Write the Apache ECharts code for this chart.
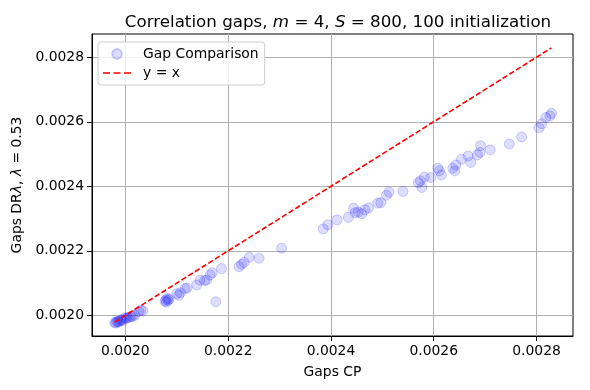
<!DOCTYPE html>
<html>
<head>
<meta charset="utf-8">
<script src="https://cdn.jsdelivr.net/npm/echarts@6/dist/echarts.min.js"></script>
<style>html,body{margin:0;padding:0;background:#fff}#c{width:590px;height:390px}</style>
</head>
<body>
<div id="c"></div>
<script>
// Gaps CP (x) and Gaps DR lambda (y), one entry per initialization
const gapsCP = [
  0.001979, 0.001981, 0.001983, 0.001985, 0.001987, 0.001989, 0.001992, 0.001995, 0.001998,
  0.002001, 0.002004, 0.002008, 0.002011, 0.002014, 0.002018, 0.002026, 0.002030, 0.002034,
  0.002077, 0.002079, 0.002080, 0.002082, 0.002083, 0.002085, 0.002100, 0.002104, 0.002107,
  0.002116, 0.002120, 0.002139, 0.002145, 0.002154, 0.002158, 0.002165, 0.002169, 0.002176,
  0.002187, 0.002221, 0.002226, 0.002231, 0.002241, 0.002260, 0.002304,
  0.002385, 0.002394, 0.002412, 0.002434, 0.002444, 0.002447, 0.002453, 0.002460, 0.002466,
  0.002473, 0.002491, 0.002497, 0.002508, 0.002513, 0.002540, 0.002570, 0.002574, 0.002577,
  0.002582, 0.002594, 0.002608, 0.002611, 0.002615, 0.002637, 0.002641, 0.002643, 0.002654,
  0.002667, 0.002672, 0.002685, 0.002690, 0.002691, 0.002710, 0.002747, 0.002771, 0.002805,
  0.002810, 0.002818, 0.002826, 0.002829
];
const gapsDR = [
  0.001978, 0.001976, 0.001980, 0.001981, 0.001979, 0.001983, 0.001986, 0.001984, 0.001992,
  0.001990, 0.001993, 0.001994, 0.001996, 0.001997, 0.002000, 0.002012, 0.002016, 0.002014,
  0.002044, 0.002048, 0.002041, 0.002052, 0.002046, 0.002050, 0.002067, 0.002062, 0.002070,
  0.002083, 0.002085, 0.002094, 0.002109, 0.002108, 0.002109, 0.002125, 0.002132, 0.002042,
  0.002145, 0.002151, 0.002158, 0.002164, 0.002180, 0.002177, 0.002208,
  0.002268, 0.002281, 0.002296, 0.002304, 0.002332, 0.002318, 0.002320, 0.002315, 0.002327,
  0.002333, 0.002348, 0.002349, 0.002372, 0.002382, 0.002384, 0.002411, 0.002417, 0.002396,
  0.002428, 0.002427, 0.002456, 0.002448, 0.002435, 0.002456, 0.002448, 0.002466, 0.002484,
  0.002494, 0.002474, 0.002497, 0.002505, 0.002526, 0.002513, 0.002531, 0.002553, 0.002581,
  0.002594, 0.002613, 0.002618, 0.002626
];
const tickValues = [0.0020, 0.0022, 0.0024, 0.0026, 0.0028];
const xRange = [0.001935, 0.002871];
const yRange = [0.001936, 0.002872];

const points = gapsCP.map((x, i) => [x, gapsDR[i]]);
const lo = Math.min(...gapsCP), hi = Math.max(...gapsCP);
const identity = [[lo, lo], [hi, hi]];

const FONT = 'DejaVu Sans';
const chart = echarts.init(document.getElementById('c'), null, {renderer: 'canvas'});

function axisCommon(range) {
  return {
    type: 'value',
    min: range[0],
    max: range[1],
    axisLine: {show: true, lineStyle: {color: '#000', width: 1}},
    axisTick: {show: true, inside: false, length: 5, lineStyle: {color: '#000', width: 1}, customValues: tickValues},
    axisLabel: {
      show: true, margin: 8, color: '#000', fontFamily: FONT, fontSize: 13.9,
      customValues: tickValues,
      formatter: v => v.toFixed(4)
    },
    splitLine: {show: true, lineStyle: {color: '#b0b0b0', width: 1}},
    nameTextStyle: {color: '#000', fontFamily: FONT, fontSize: 13.9,
      rich: {i: {fontStyle: 'italic', fontFamily: FONT, fontSize: 13.9, color: '#000'}}}
  };
}

const xAxis = Object.assign(axisCommon(xRange), {
  name: 'Gaps CP', nameLocation: 'middle', nameGap: 29
});
const yAxis = Object.assign(axisCommon(yRange), {
  name: 'Gaps DR{i|λ}, {i|λ} = 0.53', nameLocation: 'middle', nameGap: 64
});

// dashed-line legend glyph (three dashes, 28 x 1.6 units)
const dashIcon = 'path://M0,0L7,0L7,1.6L0,1.6Z M10.5,0L17.5,0L17.5,1.6L10.5,1.6Z M21,0L28,0L28,1.6L21,1.6Z';

chart.setOption({
  animation: false,
  backgroundColor: '#fff',
  title: {
    text: 'Correlation gaps, {i|m} = 4, {i|S} = 800, 100 initialization',
    left: 333, top: 9, textAlign: 'center',
    textStyle: {color: '#000', fontFamily: FONT, fontSize: 16.7, fontWeight: 'normal',
      rich: {i: {fontStyle: 'italic', fontFamily: FONT, fontSize: 16.7, color: '#000'}}}
  },
  grid: {left: 92, right: 17, top: 34, bottom: 54, containLabel: false,
    show: true, borderColor: '#000', borderWidth: 1, backgroundColor: 'transparent'},
  xAxis: xAxis,
  yAxis: yAxis,
  legend: {
    orient: 'vertical', left: 98, top: 42,
    backgroundColor: 'rgba(255,255,255,0.8)', borderColor: '#cccccc', borderWidth: 1, borderRadius: 3,
    padding: [5, 6, 5, 5], itemGap: 5, itemWidth: 28, itemHeight: 10,
    textStyle: {color: '#000', fontFamily: FONT, fontSize: 13.9, lineHeight: 14, padding: [0, 0, 0, 7]},
    data: [
      {name: 'Gap Comparison'},
      {name: 'y = x', icon: dashIcon, itemStyle: {color: '#ff0000', borderWidth: 0}}
    ]
  },
  series: [
    {
      name: 'Gap Comparison', type: 'scatter', data: points, symbol: 'circle', symbolSize: 10,
      itemStyle: {color: 'rgba(0,0,255,0.17)', borderColor: 'rgba(0,0,255,0.22)', borderWidth: 1}
    },
    {
      name: 'y = x', type: 'line', data: identity, showSymbol: false, symbol: 'none',
      itemStyle: {color: '#ff0000'},
      lineStyle: {color: '#ff0000', width: 1.6, type: [5.5, 2.4]}, z: 3
    }
  ]
});
</script>
</body>
</html>
